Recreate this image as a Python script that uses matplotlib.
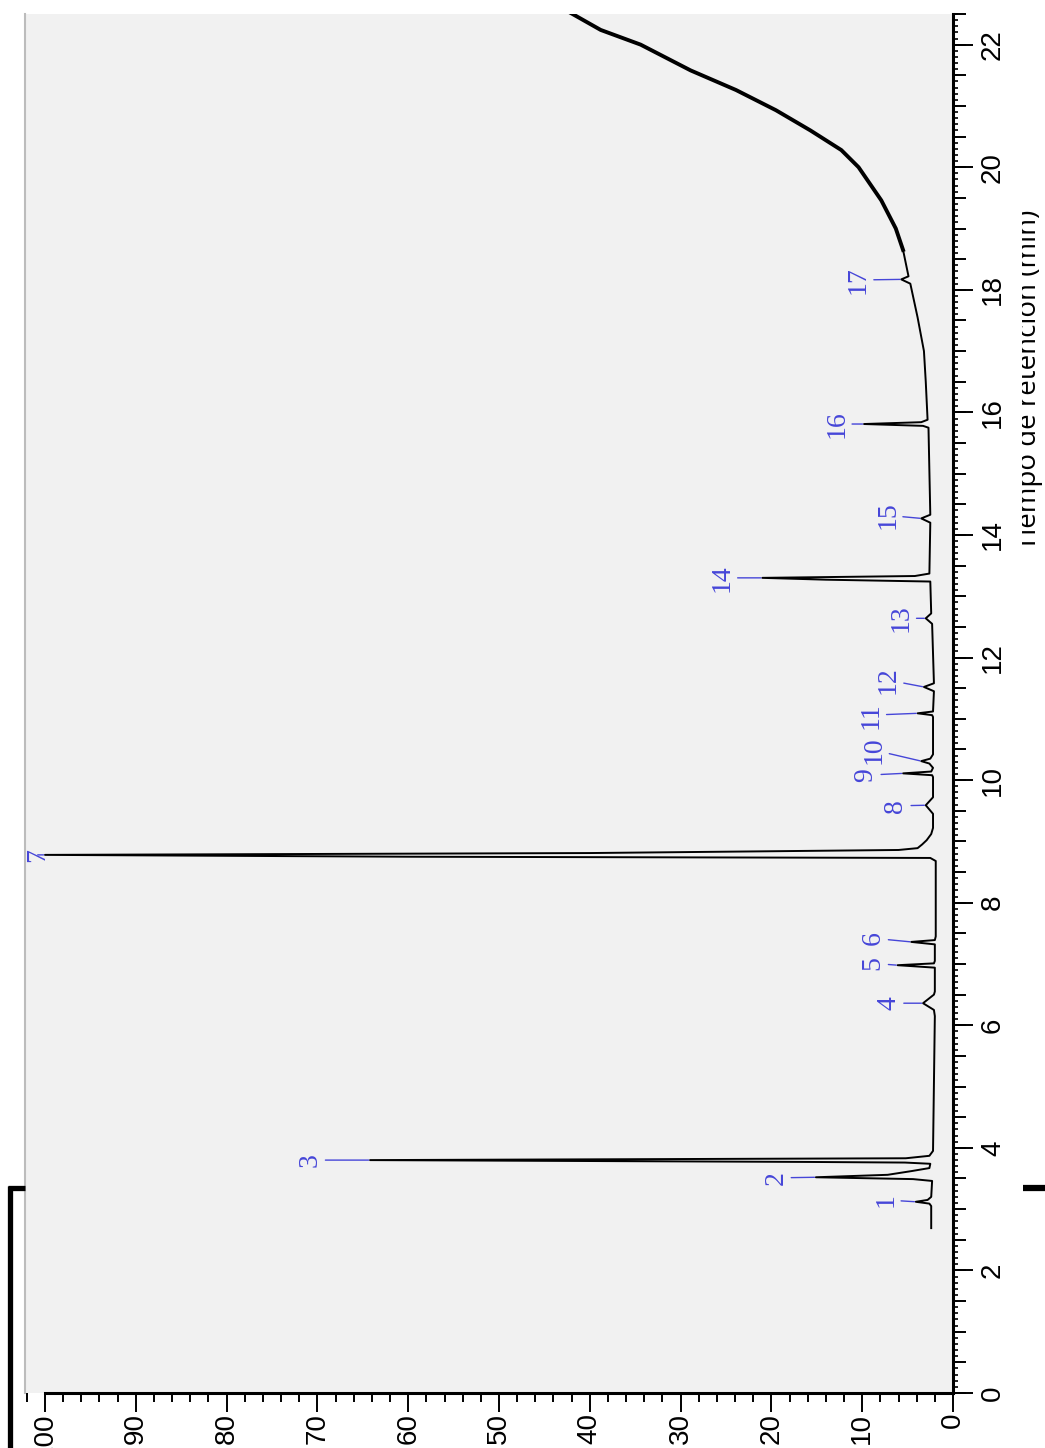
#!/usr/bin/env python

import numpy as np
import matplotlib
matplotlib.use('Agg')
import matplotlib.pyplot as plt
from matplotlib.ticker import MultipleLocator
from matplotlib.lines import Line2D
from matplotlib.transforms import Bbox

# chromatogram trace (time in min, signal in %)
trace_time = [
    2.69, 3.05, 3.09, 3.12, 3.15, 3.20,
    3.46, 3.49, 3.52, 3.56, 3.62, 3.67,
    3.74, 3.76, 3.77, 3.80, 3.83, 3.87,
    3.95, 6.15, 6.25, 6.36, 6.50, 6.55,
    6.94, 6.98, 7.01, 7.05,
    7.32, 7.36, 7.39, 7.45,
    8.68, 8.73, 8.75, 8.78, 8.81, 8.86, 8.89, 8.95, 9.02, 9.12, 9.22,
    9.45, 9.59, 9.72,
    10.05, 10.08, 10.11, 10.14, 10.20, 10.27, 10.31, 10.35, 10.42,
    11.03, 11.06, 11.09, 11.12,
    11.45, 11.52, 11.58,
    12.55, 12.64, 12.72,
    13.24, 13.27, 13.30, 13.33, 13.37,
    14.20, 14.27, 14.33,
    15.75, 15.78, 15.81, 15.84, 15.88,
    16.50, 17.00, 17.55, 18.10, 18.17, 18.22,
    18.65, 19.00, 19.46, 20.00, 20.28, 20.60, 20.93, 21.26, 21.58,
    22.00, 22.24, 22.55,
]
trace_signal = [
    2.4, 2.4, 2.6, 4.1, 2.8, 2.4,
    2.3, 4.4, 15.1, 7.2, 4.6, 2.6,
    2.5, 5.3, 15.9, 64.2, 5.2, 2.6,
    2.2, 2.0, 2.1, 3.3, 2.1, 2.0,
    2.0, 6.1, 2.1, 2.0,
    2.0, 4.6, 2.0, 1.9,
    1.9, 2.5, 60.0, 100.0, 40.0, 6.0, 3.9, 3.4, 2.9, 2.4, 2.2,
    2.2, 3.0, 2.2,
    2.2, 2.3, 5.5, 2.4, 2.2, 2.6, 3.5, 2.5, 2.2,
    2.2, 2.3, 3.9, 2.2,
    2.1, 3.2, 2.1,
    2.3, 3.0, 2.4,
    2.5, 14.0, 21.0, 4.2, 2.6,
    2.5, 3.5, 2.5,
    2.7, 3.3, 9.8, 3.5, 2.8,
    3.0, 3.2, 3.9, 4.7, 5.7, 4.9,
    5.5, 6.3, 7.9, 10.4, 12.3, 15.7, 19.5, 23.9, 28.9,
    34.4, 38.8, 42.5,
]

# numbered peaks
peak_ids = [str(i) for i in range(1, 18)]
peak_time = [3.12, 3.52, 3.80, 6.36, 6.98, 7.36, 8.78, 9.59, 10.11, 10.31,
             11.09, 11.52, 12.64, 13.30, 14.27, 15.81, 18.17]
peak_height = [4.1, 15.1, 64.2, 3.3, 6.1, 4.6, 100.0, 3.0, 5.5, 3.5,
               3.9, 3.2, 3.0, 21.0, 3.5, 9.8, 5.7]

# where the peak numbers sit (layout only)
label_signal = [7.4, 19.5, 70.8, 7.1, 8.8, 8.8, 100.8, 6.3, 9.6, 8.7,
                9.0, 7.1, 5.7, 25.4, 7.2, 12.8, 10.4]
label_time = [3.15, 3.51, 3.80, 6.36, 7.01, 7.42, 8.78, 9.58, 10.08, 10.49,
              11.06, 11.63, 12.64, 13.30, 14.32, 15.81, 18.16]

axis_label = 'Tiempo de retención (min)'

W, H = 1045, 1448
BLUE = '#4646d8'
TICKFONT = ['Liberation Sans', 'DejaVu Sans']


def main():
    fig = plt.figure(figsize=(W / 100, H / 100), dpi=100)
    ax = fig.add_axes([25 / W, 1 - 1393 / H, (953 - 25) / W, (1393 - 14) / H])
    ax.set_facecolor('#f1f1f1')
    ax.set_xlim(102.2, 0)
    ax.set_ylim(0, 22.5)

    # half-minute ticks live on a twin axis (twinx moves ax ticks left,
    # so it is made before the main axis is set up)
    ax2 = ax.twinx()
    ax2.set_ylim(ax.get_ylim())
    ax2.yaxis.set_major_locator(MultipleLocator(0.5))
    ax2.tick_params(axis='y', which='major', length=9.4, width=1.4,
                    labelright=False, labelleft=False, left=False)
    for side in ax2.spines:
        ax2.spines[side].set_visible(False)

    t = np.array(trace_time)
    s = np.array(trace_signal)
    ax.plot(s, t, color='black', lw=1.4, zorder=3)
    noisy = t >= 18.4
    ax.plot(s[noisy], t[noisy], color='black', lw=2.8, zorder=3)

    for i in range(len(peak_ids)):
        ax.annotate(peak_ids[i], xy=(peak_height[i], peak_time[i]),
                    xytext=(label_signal[i], label_time[i]),
                    rotation=90, ha='center', va='center',
                    family=['Liberation Serif', 'DejaVu Serif'], fontsize=20,
                    color=BLUE, zorder=4,
                    arrowprops=dict(arrowstyle='-', color=BLUE, lw=1.0,
                                    shrinkA=0, shrinkB=1))

    # spines
    ax.spines['top'].set_visible(False)
    ax.spines['left'].set_color('#bcbcbc')
    ax.spines['left'].set_linewidth(1.5)
    ax.spines['right'].set_linewidth(2.2)
    ax.spines['bottom'].set_linewidth(2.2)
    ax.spines['bottom'].set_bounds(0, 100)

    # intensity axis (bottom)
    ax.xaxis.set_major_locator(MultipleLocator(10))
    ax.xaxis.set_minor_locator(MultipleLocator(2))
    ax.tick_params(axis='x', which='major', length=13.7, width=1.4, pad=0.5)
    ax.tick_params(axis='x', which='minor', length=6.5, width=1.4)

    # time axis (right)
    ax.yaxis.tick_right()
    ax.yaxis.set_label_position('right')
    ax.yaxis.set_major_locator(MultipleLocator(2))
    ax.yaxis.set_minor_locator(MultipleLocator(0.1))
    ax.tick_params(axis='y', which='major', length=14.4, width=1.4, pad=5,
                   left=False, labelleft=False, right=True, labelright=True)
    ax.tick_params(axis='y', which='minor', length=3.6, width=1.2,
                   left=False, right=True)

    for lab in ax.get_xticklabels() + ax.get_yticklabels():
        lab.set_rotation(90)
        lab.set_family(TICKFONT)
        lab.set_fontsize(20)
    for lab in ax.get_yticklabels():
        lab.set_va('center')

    # axis title, partly hidden at the page edge
    txt = fig.text(1036 / W, 1 - 380 / H, axis_label, rotation=90,
                   rotation_mode='anchor', ha='center', va='baseline',
                   family=['Open Sans', 'DejaVu Sans'], fontsize=20,
                   color='black')
    txt.set_clip_box(Bbox([[1022, 0], [W, H]]))
    txt.set_clip_on(True)

    # page border fragments
    fig.add_artist(Line2D([10 / W, 10 / W], [0, 1 - 1186 / H],
                          color='black', lw=3.8, solid_capstyle='butt'))
    fig.add_artist(Line2D([8 / W, 25 / W], [1 - 1188 / H, 1 - 1188 / H],
                          color='black', lw=3.8, solid_capstyle='butt'))
    fig.add_artist(Line2D([1023 / W, 1], [1 - 1188 / H, 1 - 1188 / H],
                          color='black', lw=4.5, solid_capstyle='butt'))

    fig.savefig('out.png', dpi=100)
    return


if __name__ == '__main__':
    main()
